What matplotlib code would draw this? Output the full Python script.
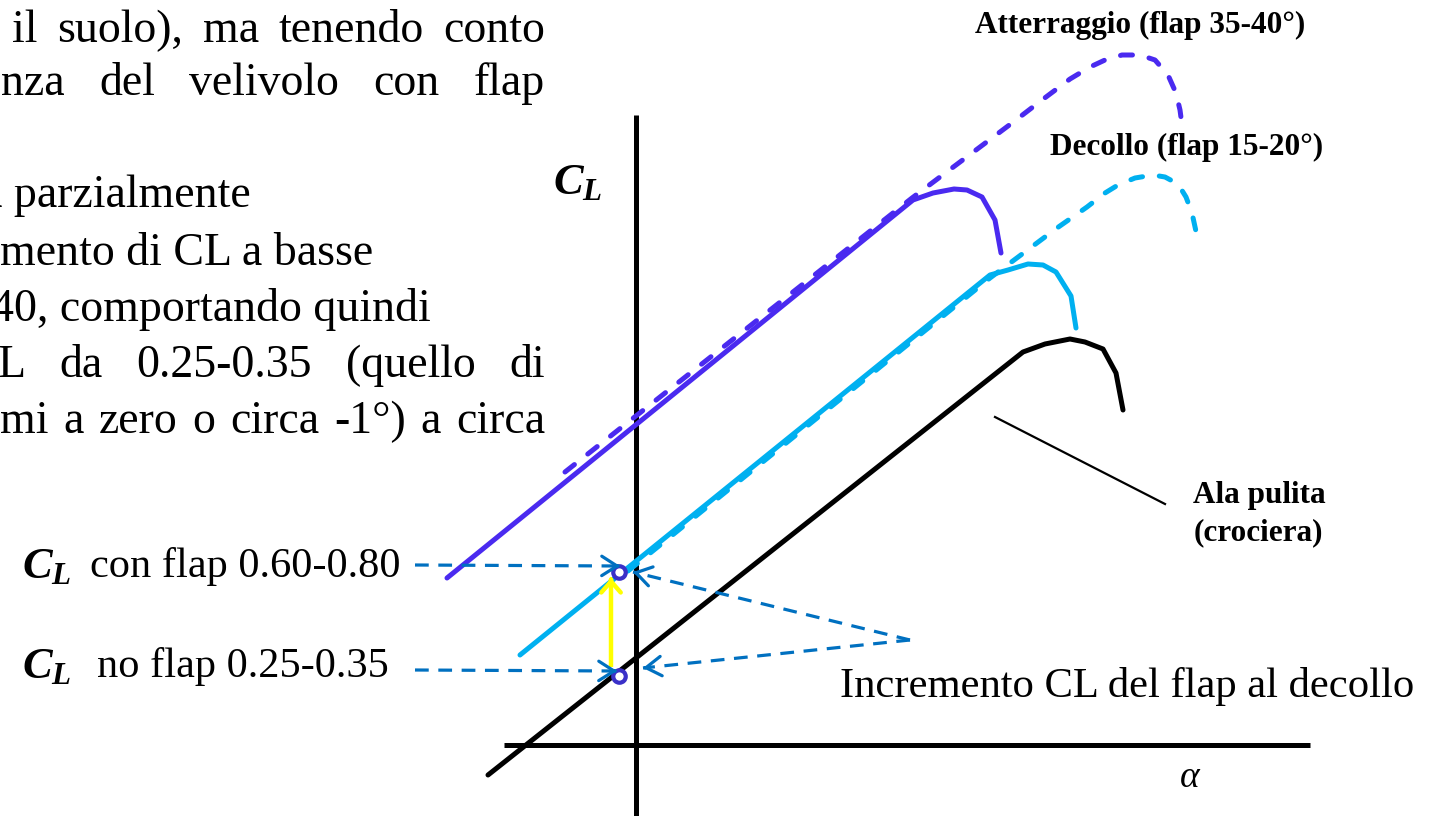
import matplotlib
matplotlib.use("Agg")
import matplotlib.pyplot as plt

plt.rcParams['mathtext.fontset'] = 'custom'
plt.rcParams['mathtext.it'] = 'Liberation Serif:italic:bold'
plt.rcParams['mathtext.rm'] = 'Liberation Serif:bold'
plt.rcParams['mathtext.bf'] = 'Liberation Serif:bold:italic'

SERIF = 'Liberation Serif'

# ---------------- data (alpha, CL in diagram units; origin at axis crossing) ----------
clean_alpha = [-148, 387, 409, 434, 449, 467, 480, 487]
clean_cl = [-30, 393, 401, 406, 403, 396, 372, 335]

takeoff_alpha = [-116, 354, 372, 392, 407, 420, 435, 440]
takeoff_cl = [90, 470, 475, 481, 480, 473, 449, 417]

takeoff_dash_alpha = [-8, 354, 421, 451, 469, 482, 499, 517, 529, 542, 550, 556, 561]
takeoff_dash_cl = [174, 467, 517, 538, 552, 560, 567, 570, 568, 561, 548, 532, 509]

landing_alpha = [-189, 277, 297, 318, 331, 346, 359, 365]
landing_cl = [167, 545, 552, 556, 555, 548, 525, 492]

landing_dash_alpha = [-71, 276, 376, 406, 434, 454, 469, 486, 504, 519, 532, 540, 544, 546]
landing_dash_cl = [273, 547, 622, 645, 666, 678, 685, 690, 690, 685, 670, 652, 635, 620]

point_alpha = [-17, -17]
point_cl = [173, 69]

curve_labels = ["Atterraggio (flap 35-40°)", "Decollo (flap 15-20°)"]
clean_label = ["Ala pulita", "(crociera)"]
cl_labels = ["con flap 0.60-0.80", "no flap 0.25-0.35"]
increment_label = "Incremento CL del flap al decollo"

body_lines = [
    "il suolo), ma tenendo conto",
    "nza del velivolo con flap",
    "a parzialmente",
    "mento di CL a basse",
    "40, comportando quindi",
    "L da 0.25-0.35 (quello di",
    "mi a zero o circa -1°) a circa",
]

# ---------------- layout / styles ----------------
PURPLE = '#4A2AF0'
CYAN = '#00B0F0'
REFBLUE = '#0070C0'
CIRCLE = '#3A30C8'

fig = plt.figure(figsize=(14.34, 8.16), dpi=100)
ax = fig.add_axes([0, 0, 1, 1])
ax.set_xlim(-636, 798)
ax.set_ylim(-71, 745)
ax.axis('off')

# axes of the diagram
ax.plot([0, 0], [-71, 630], color='black', lw=3.6, solid_capstyle='butt', zorder=2)
ax.plot([-132, 674], [0, 0], color='black', lw=3.6, solid_capstyle='butt', zorder=2)

lw = 3.6
# curves
ax.plot(clean_alpha, clean_cl, color='black', lw=lw, solid_joinstyle='round',
        solid_capstyle='round', zorder=3)
ax.plot(takeoff_dash_alpha, takeoff_dash_cl, color=CYAN, lw=lw, dashes=(2.4, 3.4),
        dash_capstyle='round', dash_joinstyle='round', zorder=3)
ax.plot(takeoff_alpha, takeoff_cl, color=CYAN, lw=lw, solid_joinstyle='round',
        solid_capstyle='round', zorder=3)
ax.plot(landing_dash_alpha, landing_dash_cl, color=PURPLE, lw=lw, dashes=(2.4, 3.4),
        dash_capstyle='round', dash_joinstyle='round', zorder=3)
ax.plot(landing_alpha, landing_cl, color=PURPLE, lw=lw, solid_joinstyle='round',
        solid_capstyle='round', zorder=3)

# yellow increment arrow
ax.plot([point_alpha[1] - 8, point_alpha[0] - 8], [point_cl[1] + 9, point_cl[0] - 8],
        color='#FFFF00', lw=3.2, solid_capstyle='butt', zorder=4)
ax.annotate('', xy=(point_alpha[0] - 8, point_cl[0] - 6),
            xytext=(point_alpha[0] - 8, point_cl[0] - 8),
            arrowprops=dict(arrowstyle='->, head_length=8, head_width=7', mutation_scale=1,
                            color='#FFFF00', lw=3.2, shrinkA=0, shrinkB=0), zorder=4)

# reference dashed arrows
def dashed_arrow(x0, y0, x1, y1):
    ax.plot([x0, x1], [y0, y1], color=REFBLUE, lw=2.3, dashes=(4.3, 3.0), zorder=5)
    dx, dy = x1 - x0, y1 - y0
    n = (dx * dx + dy * dy) ** 0.5
    ax.annotate('', xy=(x1, y1), xytext=(x1 - dx / n * 2, y1 - dy / n * 2),
                arrowprops=dict(arrowstyle='->, head_length=11, head_width=7',
                                mutation_scale=1, color=REFBLUE, lw=2.3,
                                shrinkA=0, shrinkB=0), zorder=6)

dashed_arrow(-221, 180, point_alpha[0] + 1, point_cl[0] + 6)
dashed_arrow(-221, 75, point_alpha[1] - 2, point_cl[1] + 5)
dashed_arrow(274, 105, point_alpha[0] + 14, point_cl[0])
dashed_arrow(274, 105, point_alpha[1] + 24, point_cl[1] + 8)

# circles
ax.plot(point_alpha, point_cl, 'o', ms=9, mfc='white', mec=CIRCLE, mew=3.0, zorder=5)

# leader for clean wing
ax.plot([359, 529], [328, 241], color='black', lw=1.6, zorder=3)

# ---------------- texts ----------------
ax.text(339, 712, curve_labels[0], family=SERIF, weight='bold', fontsize=22.5, va='baseline')
ax.text(414, 590, curve_labels[1], family=SERIF, weight='bold', fontsize=22.5, va='baseline')
ax.text(623, 242, clean_label[0], family=SERIF, weight='bold', fontsize=22.5,
        va='baseline', ha='center')
ax.text(622, 205, clean_label[1], family=SERIF, weight='bold', fontsize=22.5,
        va='baseline', ha='center')
ax.text(204, 48, increment_label, family=SERIF, fontsize=30.7, va='baseline')
ax.text(554, -33, 'α', family=SERIF, style='italic', fontsize=27, va='center', ha='center')

ax.text(-83, 551, '$C_L$', fontsize=32, va='baseline')
ax.text(-614, 167, '$C_L$', fontsize=32, va='baseline')
ax.text(-614, 67, '$C_L$', fontsize=32, va='baseline')
ax.text(-546, 168, cl_labels[0], family=SERIF, fontsize=30.5, va='baseline')
ax.text(-539, 68, cl_labels[1], family=SERIF, fontsize=30.5, va='baseline')

# body text (partially justified, as on the slide)
FS = 33
body_left = [12, 1, -18, 0, -9, -2, 0]
body_base = [42, 95, 207, 265, 321, 377, 433]
body_just = [True, True, False, False, False, True, True]
RIGHT = 545
renderer = fig.canvas.get_renderer()
for txt, xl, yb, just in zip(body_lines, body_left, body_base, body_just):
    xd, yd = xl - 636, 745 - yb
    if not just:
        ax.text(xd, yd, txt, family=SERIF, fontsize=FS, va='baseline')
        continue
    words = txt.split(' ')
    widths = []
    for w in words:
        t = ax.text(0, 0, w, family=SERIF, fontsize=FS)
        widths.append(t.get_window_extent(renderer).width)
        t.remove()
    gap = (RIGHT - xl - sum(widths)) / (len(words) - 1)
    x = xd
    for w, wd in zip(words, widths):
        ax.text(x, yd, w, family=SERIF, fontsize=FS, va='baseline')
        x += wd + gap

fig.savefig('out.png', dpi=100)
